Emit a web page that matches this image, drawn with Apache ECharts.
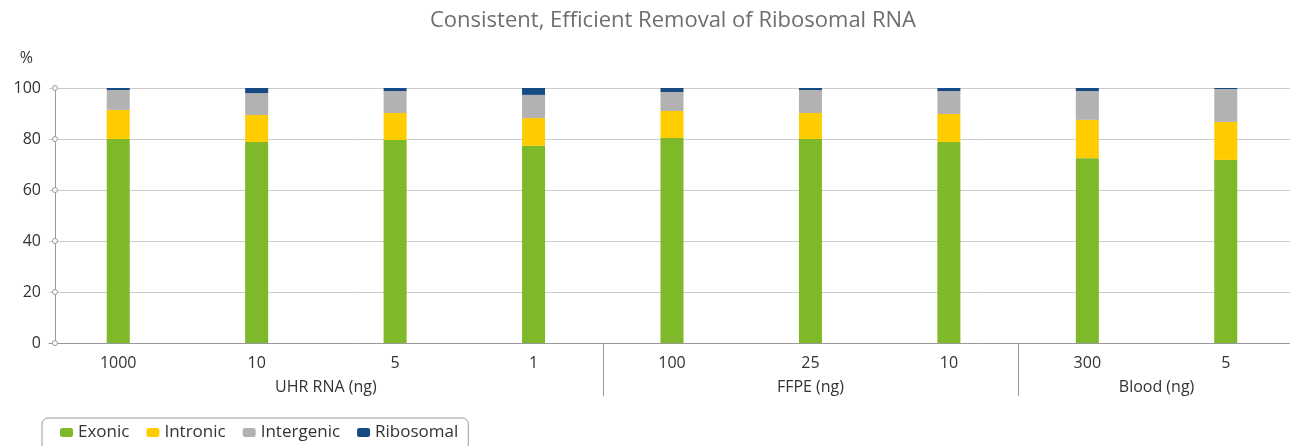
<!DOCTYPE html>
<html>
<head>
<meta charset="utf-8">
<script src="https://cdn.jsdelivr.net/npm/echarts@6/dist/echarts.min.js"></script>
<style>
  html, body { margin: 0; padding: 0; background: #fff; }
  #chart { width: 1290px; height: 446px; }
</style>
</head>
<body>
<div id="chart"></div>
<script>
// data
var categories = ["1000", "10", "5", "1", "100", "25", "10", "300", "5"];
var groups = [
  { name: "UHR RNA (ng)", size: 4 },
  { name: "FFPE (ng)", size: 3 },
  { name: "Blood (ng)", size: 2 }
];
var exonic = [80.0, 78.8, 79.6, 77.3, 80.4, 80.0, 78.8, 72.5, 71.8];
var intronic = [11.4, 10.6, 10.6, 10.9, 10.6, 10.2, 11.0, 15.0, 14.9];
var intergenic = [7.8, 8.6, 8.6, 9.1, 7.4, 9.0, 9.0, 11.3, 12.9];
var ribosomal = [0.8, 2.0, 1.2, 2.7, 1.6, 0.8, 1.2, 1.2, 0.4];
var yTicks = [0, 20, 40, 60, 80, 100];

(function () {
  var myChart = echarts.init(document.getElementById("chart"));
  var font = "'Open Sans', 'Noto Sans', sans-serif";

  function bar(name, data, color) {
    return {
      name: name,
      type: "bar",
      stack: "total",
      barWidth: 23,
      data: data,
      itemStyle: { color: color },
    };
  }

  var option = {
    animation: false,
    textStyle: { fontFamily: font },
    title: {
      text: "Consistent, Efficient Removal of Ribosomal RNA",
      left: 425,
      top: 5,
      textStyle: { fontFamily: font, fontSize: 22, fontWeight: "normal", color: "#6e6e6e" },
    },
    legend: {
      left: 42,
      top: 418,
      icon: "roundRect",
      itemWidth: 13,
      itemHeight: 9,
      itemGap: 17,
      padding: [6, 10, 10, 18],
      borderColor: "#999999",
      borderWidth: 1,
      borderRadius: 6,
      textStyle: { fontSize: 17, color: "#333333", fontFamily: font },
    },
    grid: { left: 49, width: 1246, top: 88, bottom: 103, outerBoundsMode: "none" },
    xAxis: {
      type: "category",
      data: categories,
      axisLine: { lineStyle: { color: "#999999" } },
      axisTick: { show: false },
      axisLabel: { fontSize: 16, color: "#333333", margin: 12 },
    },
    yAxis: {
      type: "value",
      min: 0,
      max: 100,
      interval: 20,
      offset: -6,
      name: "%",
      nameLocation: "end",
      nameGap: 22,
      nameTextStyle: { fontSize: 16, color: "#333333", align: "right", padding: [0, 22, 0, 0] },
      axisLine: { show: true, lineStyle: { color: "#999999" } },
      axisTick: { show: false },
      axisLabel: { fontSize: 16, color: "#333333", margin: 14 },
      splitLine: { lineStyle: { color: "#cccccc" } },
    },
    series: [
      bar("Exonic", exonic, "#7db928"),
      bar("Intronic", intronic, "#ffcc00"),
      bar("Intergenic", intergenic, "#b2b2b2"),
      bar("Ribosomal", ribosomal, "#154a82"),
    ],
  };
  myChart.setOption(option);

  // group labels, separators and tick circles placed through the axis scales
  var graphics = [];
  var step = myChart.convertToPixel({ xAxisIndex: 0 }, 1) - myChart.convertToPixel({ xAxisIndex: 0 }, 0);
  var yBase = myChart.convertToPixel({ yAxisIndex: 0 }, 0);
  var start = 0;
  groups.forEach(function (g, gi) {
    var x0 = myChart.convertToPixel({ xAxisIndex: 0 }, start);
    var x1 = myChart.convertToPixel({ xAxisIndex: 0 }, start + g.size - 1);
    graphics.push({
      type: "text",
      x: (x0 + x1) / 2,
      y: yBase + 44,
      style: { text: g.name, fontSize: 16, fill: "#333333", fontFamily: font, align: "center", verticalAlign: "middle" },
    });
    if (gi < groups.length - 1) {
      var xs = Math.round(x1 + step / 2) + 0.5;
      graphics.push({
        type: "line",
        shape: { x1: xs, y1: yBase, x2: xs, y2: yBase + 53 },
        style: { stroke: "#999999", lineWidth: 1 },
      });
    }
    start += g.size;
  });
  var xAxisLeft = myChart.convertToPixel({ xAxisIndex: 0 }, 0) - step / 2 + 6;
  yTicks.forEach(function (t) {
    graphics.push({
      type: "circle",
      z: 10,
      shape: { cx: xAxisLeft, cy: myChart.convertToPixel({ yAxisIndex: 0 }, t), r: 2.5 },
      style: { fill: "#ffffff", stroke: "#999999", lineWidth: 1 },
    });
  });
  myChart.setOption({ graphic: graphics });

  window.addEventListener("resize", function () {
    myChart.resize();
  });
})();
</script>
</body>
</html>
